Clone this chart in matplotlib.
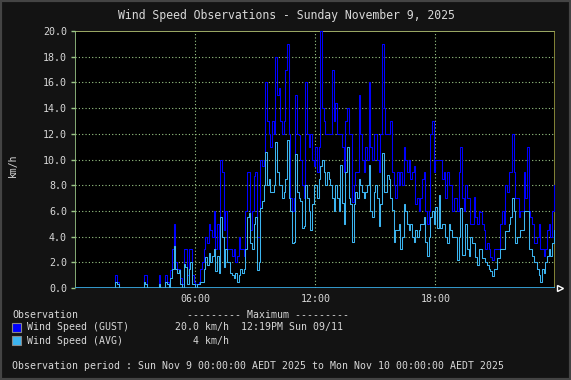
import numpy as np
import matplotlib
matplotlib.use("Agg")
import matplotlib.pyplot as plt
from matplotlib.patches import Rectangle

W, H = 571, 380

# 5-minute samples, one row per hour (12 samples each)
gust = [
    [0, 0, 0, 0, 0, 0, 0, 0, 0, 0, 0, 0],
    [0, 0, 0, 0, 0, 0, 0, 0, 0, 0, 0, 0],
    [1.0, 0.5, 0, 0, 0, 0, 0, 0, 0, 0, 0, 0],
    [0, 0, 0, 0, 0, 1.0, 1.0, 0, 0, 0, 0, 0],
    [0, 0, 1.0, 0, 0, 0, 1.0, 0.5, 0, 1.4, 3.0, 5.0],
    [2.0, 1.5, 1.5, 0.8, 0.3, 3.0, 3.0, 1.0, 3.0, 3.0, 1.0, 0.5],
    [0.3, 0.3, 0.5, 1.5, 2.0, 3.0, 4.0, 3.5, 5.0, 4.5, 4.0, 6.0],
    [3.0, 5.0, 3.0, 10.0, 9.0, 4.5, 6.0, 3.0, 3.0, 3.0, 2.5, 3.0],
    [2.0, 2.5, 4.0, 3.0, 3.0, 2.5, 6.0, 9.0, 9.0, 4.5, 6.0, 8.7],
    [9.0, 4.0, 4.0, 10.0, 9.5, 10.0, 16.0, 13.0, 12.0, 11.0, 13.0, 12.0],
    [18.0, 15.0, 15.6, 13.0, 12.0, 13.0, 17.0, 19.0, 12.0, 7.0, 6.0, 7.0],
    [15.0, 12.0, 11.9, 10.0, 8.0, 7.0, 16.0, 12.0, 11.0, 12.0, 10.0, 9.5],
    [11.0, 9.0, 11.0, 20.0, 14.0, 13.0, 12.0, 12.0, 12.0, 12.0, 17.0, 13.0],
    [14.4, 12.0, 12.0, 12.0, 11.0, 9.0, 13.0, 14.0, 12.0, 12.0, 6.7, 8.0],
    [9.0, 9.0, 15.0, 12.0, 10.0, 9.0, 11.0, 10.0, 16.0, 11.0, 10.0, 12.0],
    [12.0, 10.0, 9.0, 12.0, 19.0, 14.0, 12.0, 12.0, 12.0, 13.0, 9.0, 8.0],
    [7.0, 9.0, 8.0, 9.0, 8.0, 11.0, 10.0, 9.0, 10.0, 8.5, 9.0, 9.5],
    [6.5, 7.0, 6.0, 7.0, 8.5, 9.0, 6.0, 5.0, 6.0, 12.0, 13.0, 9.0],
    [10.0, 10.0, 10.0, 10.0, 8.5, 9.0, 7.0, 9.0, 8.0, 8.0, 6.0, 7.0],
    [7.0, 6.0, 9.0, 11.0, 7.0, 6.0, 8.0, 7.0, 7.0, 5.0, 5.0, 7.1],
    [5.5, 5.0, 6.0, 5.9, 5.0, 4.5, 3.0, 3.5, 3.0, 2.4, 2.2, 3.0],
    [3.0, 3.0, 3.0, 5.0, 6.0, 5.0, 8.0, 7.5, 9.0, 9.0, 12.0, 9.0],
    [7.0, 7.0, 5.5, 6.0, 6.0, 9.0, 7.0, 11.0, 6.0, 5.5, 5.0, 3.5],
    [3.5, 4.0, 5.0, 3.0, 3.0, 2.5, 3.0, 4.5, 5.0, 4.0, 6.0, 8.0],
]
avg = [
    [0, 0, 0, 0, 0, 0, 0, 0, 0, 0, 0, 0],
    [0, 0, 0, 0, 0, 0, 0, 0, 0, 0, 0, 0],
    [0.5, 0.3, 0, 0, 0, 0, 0, 0, 0, 0, 0, 0],
    [0, 0, 0, 0, 0, 0.5, 0.3, 0, 0, 0, 0, 0],
    [0, 0, 0.3, 0, 0, 0, 0.5, 0.3, 0, 0.8, 1.5, 3.3],
    [1.5, 1.2, 1.4, 0.3, 0, 1.9, 1.6, 0.3, 1.5, 2.0, 0.3, 0.3],
    [0, 0.3, 0.3, 0.5, 0.5, 1.5, 2.4, 1.8, 2.7, 2.0, 2.5, 3.0],
    [1.3, 2.5, 1.2, 5.5, 4.0, 1.6, 3.0, 2.0, 2.0, 1.2, 1.0, 0.8],
    [1.2, 0.5, 1.0, 1.5, 1.2, 1.5, 3.0, 5.5, 5.8, 3.5, 3.0, 5.0],
    [5.5, 1.4, 2.0, 6.2, 6.8, 8.0, 10.6, 8.0, 8.5, 7.5, 7.5, 8.0],
    [11.4, 9.0, 8.0, 8.0, 7.0, 7.5, 8.5, 11.5, 7.0, 6.0, 3.5, 3.6],
    [10.4, 7.5, 7.0, 6.8, 4.7, 4.8, 8.0, 7.0, 6.0, 4.5, 6.5, 8.0],
    [8.0, 7.0, 8.5, 9.5, 10.0, 9.0, 8.0, 9.0, 8.5, 8.0, 7.0, 6.0],
    [8.0, 7.0, 6.0, 9.6, 6.6, 5.0, 9.0, 11.0, 7.0, 6.5, 3.6, 6.5],
    [7.5, 7.0, 8.5, 8.0, 7.5, 7.0, 7.5, 8.0, 9.6, 6.0, 5.5, 7.5],
    [8.0, 7.0, 4.8, 6.5, 10.5, 7.5, 7.5, 8.8, 8.5, 7.0, 6.1, 3.6],
    [4.5, 4.5, 5.0, 3.0, 4.0, 6.5, 6.0, 5.0, 4.5, 5.0, 4.0, 3.6],
    [4.5, 4.0, 4.5, 5.0, 5.0, 5.5, 3.6, 2.5, 4.0, 5.5, 6.0, 5.0],
    [6.3, 4.7, 7.2, 4.7, 5.0, 5.0, 4.0, 3.5, 5.0, 4.5, 4.0, 4.0],
    [4.0, 2.2, 4.0, 6.2, 2.6, 2.6, 5.0, 3.0, 2.5, 4.0, 3.5, 3.5],
    [2.4, 1.8, 3.0, 3.0, 2.3, 2.3, 2.0, 1.8, 1.5, 1.3, 0.9, 1.5],
    [1.5, 2.3, 2.3, 3.0, 3.0, 3.0, 4.4, 4.4, 5.0, 5.5, 7.0, 6.0],
    [3.5, 4.0, 4.0, 4.5, 4.5, 6.0, 6.0, 6.0, 3.0, 3.0, 2.5, 2.0],
    [2.0, 1.5, 1.0, 0.5, 1.5, 1.2, 2.0, 2.5, 3.0, 2.5, 3.5, 4.5],
]
y_ticks = [0, 2, 4, 6, 8, 10, 12, 14, 16, 18, 20]
x_ticks = [6, 12, 18]
x_labels = ["06:00", "12:00", "18:00"]

title = "Wind Speed Observations - Sunday November 9, 2025"
gust_max = "20.0 km/h"
gust_max_when = "12:19PM Sun 09/11"
avg_max = "4 km/h"
period = "Observation period : Sun Nov 9 00:00:00 AEDT 2025 to Mon Nov 10 00:00:00 AEDT 2025"

gust_c = "#0000ff"
avg_c = "#3cb4f0"
grid_c = "#9cc888"
text_c = "#d8d8d8"
mono = "DejaVu Sans Mono"

g = np.array(gust, dtype=float).ravel()
a = np.array(avg, dtype=float).ravel()
t = np.arange(len(g) + 1) * 5 / 60.0
g = np.append(g, g[-1])
a = np.append(a, a[-1])

fig = plt.figure(figsize=(W / 100, H / 100), dpi=100, facecolor="#131313")
fig.add_artist(Rectangle((0, 0), 1, 1, transform=fig.transFigure, fill=False,
                         edgecolor="#444444", linewidth=3))

ax = fig.add_axes([75.3 / W, 1 - 288 / H, 480 / W, 257 / H])
ax.set_facecolor("black")
ax.set_xlim(0, 24)
ax.set_ylim(0, 20)

for yv in y_ticks[1:-1]:
    ax.axhline(yv, color=grid_c, lw=0.8, linestyle=(0, (1, 2)), zorder=1)
for xv in x_ticks:
    ax.axvline(xv, color=grid_c, lw=0.8, linestyle=(0, (1, 2)), zorder=1)
ax.axhline(20, color="#b8c878", lw=1.2, zorder=1)

ax.plot(t, g, drawstyle="steps-post", color=gust_c, lw=0.75, zorder=3)
ax.plot(t, a, drawstyle="steps-post", color=avg_c, lw=0.75, zorder=4)

for s in ax.spines.values():
    s.set_visible(False)
ax.axvline(0, color=grid_c, lw=1.2, zorder=2)
ax.axvline(24, color="#9a9a40", lw=1.2, zorder=2)
ax.axhline(0, color=avg_c, lw=1.2, zorder=5)
ax.plot([24.25], [0], marker=">", markersize=5, markerfacecolor="none",
        markeredgecolor="white", clip_on=False, zorder=6)

ax.set_yticks(y_ticks)
ax.set_yticklabels([f"{v:.1f}" for v in y_ticks])
ax.set_xticks(x_ticks)
ax.set_xticklabels(x_labels)
ax.tick_params(axis="y", colors=text_c, labelsize=7.2, length=3, width=1, pad=3,
               labelcolor=text_c)
ax.tick_params(axis="y", color=grid_c)
ax.tick_params(axis="x", colors=text_c, labelsize=7.2, length=0, pad=4)
for lb in ax.get_xticklabels() + ax.get_yticklabels():
    lb.set_fontfamily(mono)

fig.text(13 / W, 1 - 165 / H, "km/h", rotation=90, color=text_c, fontsize=7,
         family=mono, ha="center", va="center")
fig.text(286 / W, 1 - 15 / H, title, color=text_c, fontsize=8.3, family=mono,
         ha="center", va="center")

fs = 7.1
def txt(x, y, s, ha="left"):
    fig.text(x / W, 1 - y / H, s, color=text_c, fontsize=fs, family=mono,
             ha=ha, va="center")

txt(12, 314.7, "Observation")
txt(187, 314.7, "--------- Maximum ---------")
fig.add_artist(Rectangle((12 / W, 1 - 331.5 / H), 8.5 / W, 8.5 / H, transform=fig.transFigure,
                         facecolor=gust_c, edgecolor="#888888", linewidth=0.8))
fig.add_artist(Rectangle((12 / W, 1 - 344.8 / H), 8.5 / W, 8.5 / H, transform=fig.transFigure,
                         facecolor=avg_c, edgecolor="#888888", linewidth=0.8))
txt(26.7, 327.3, "Wind Speed (GUST)")
txt(229, 327.3, gust_max, ha="right")
txt(241.4, 327.3, gust_max_when)
txt(26.7, 340.7, "Wind Speed (AVG)")
txt(229, 340.7, avg_max, ha="right")
txt(12, 366, period)

fig.savefig("out.png", dpi=100, facecolor=fig.get_facecolor())
